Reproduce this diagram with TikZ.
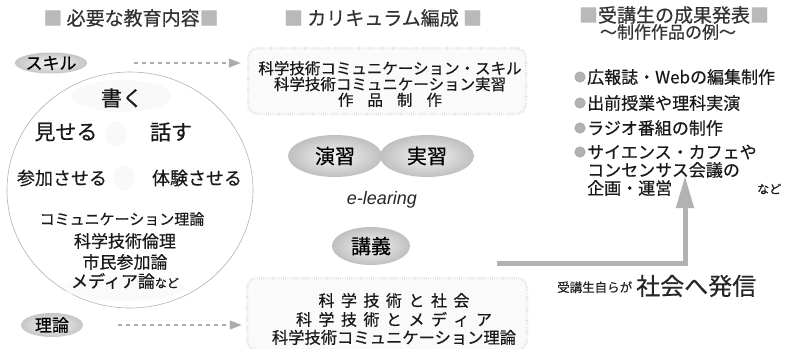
\documentclass[tikz,border=0pt]{standalone}
\usepackage{fontspec}
\setmainfont{Noto Sans CJK JP}[FakeBold=0.5]
\newfontfamily\elfont{Liberation Sans}
\usetikzlibrary{arrows.meta,shapes.geometric}
\newcommand{\fs}[1]{\fontsize{#1}{#1}\selectfont}
\newcommand{\gsq}{\textcolor{gray!55}{■}}
\newcommand{\lsp}{\hspace{6.5pt}}
\newcommand{\wsp}{\hspace{14pt}}
\begin{document}
\begin{tikzpicture}[x=1pt,y=-1pt,
  title/.style={font=\fs{19}, text=black!80, inner sep=0pt},
  tagst/.style={ellipse, inner sep=0pt, inner color=gray!8, outer color=gray!45, text=black},
  circtext/.style={text=black!90, inner sep=0pt},
  boxst/.style={rounded corners=10pt, draw=gray!30, line width=2.5pt, dash pattern=on 0.6pt off 1.6pt, fill=gray!4, inner sep=0pt},
  boxtext/.style={align=center, text=black!90, inner sep=0pt},
  oval/.style={ellipse, inner sep=0pt, minimum width=94pt, minimum height=42pt, inner color=gray!8, outer color=gray!50, font=\fs{20}, text=black},
  item/.style={anchor=west, font=\fs{17}, text=black!90, inner sep=0pt},
  bul/.style={circle, fill=gray!60, draw=gray!80, inner sep=0pt, minimum size=10.5pt},
  dasharrow/.style={gray!65, line width=1.3pt, dash pattern=on 4pt off 4pt, -{Triangle[length=12pt,width=9pt]}},
  blob/.style={ellipse, fill=gray!5, inner sep=0pt}
]
\useasboundingbox (0,0) rectangle (786,348);

% titles
\node[title] (t1) at (131,18) {\gsq\ 必要な教育内容\gsq};
\node[title] (t2) at (383,18) {\gsq\ カリキュラム編成\ \gsq};
\node[title] (t3) at (674,15) {\gsq 受講生の成果発表\gsq};
\node[title, font=\fs{17}] (t3b) at (668,32) {～制作作品の例～};

% left column
\node[tagst, minimum width=68pt, minimum height=21pt, font=\fs{17}] (skill) at (51,63) {スキル};
\node[tagst, minimum width=62pt, minimum height=24pt, font=\fs{17}] (riron) at (52,325) {理論};

\node[ellipse, draw=gray!60, line width=0.6pt, minimum width=246pt, minimum height=236pt, inner sep=0pt] (circ) at (130,190) {};
\node[blob, minimum width=100pt, minimum height=32pt] (b1) at (122,96) {};
\node[blob, minimum width=22pt, minimum height=26pt] (b2) at (116,134) {};
\node[blob, minimum width=22pt, minimum height=26pt] (b3) at (124,178) {};
\node[blob, minimum width=120pt, minimum height=26pt, fill=gray!4] (b4) at (125,288) {};

\node[circtext, font=\fs{21}] (kaku) at (122,98) {書く};
\node[circtext, font=\fs{21}] (miseru) at (66,132) {見せる};
\node[circtext, font=\fs{21}] (hanasu) at (171,132) {話す};
\node[circtext, font=\fs{18}] (sanka) at (62,178) {参加させる};
\node[circtext, font=\fs{18}] (taiken) at (197,178) {体験させる};
\node[circtext, font=\fs{15}] (comm) at (122,219) {コミュニケーション理論};
\node[circtext, font=\fs{17}] (rinri) at (125,241) {科学技術倫理};
\node[circtext, font=\fs{17}] (shimin) at (125,262) {市民参加論};
\node[circtext, font=\fs{17}] (media) at (125,281) {メディア論{\fs{12}など}};

% middle column
\node[boxst, minimum width=278pt, minimum height=66pt] (topbox) at (387,81) {};
\node[boxtext] (toptext) at (390,84)
  {\fs{15.5}科学技術コミュニケーション・スキル\\[0.5pt]
   \fs{15.5}科学技術コミュニケーション実習\\[0.5pt]
   \fs{15.5}作\wsp 品\wsp 制\wsp 作};
\node[oval] (enshu) at (335,156) {演習};
\node[oval] (jisshu) at (427,156) {実習};
\node[text=black!85, font=\elfont\itshape\fs{18}, inner sep=0pt] (elearn) at (382,200) {e-learing};
\node[oval, minimum width=78pt, minimum height=38pt] (kougi) at (371,246) {講義};
\node[boxst, minimum width=280pt, minimum height=72pt] (botbox) at (387,314) {};
\node[boxtext] (bottext) at (394,319)
  {\fs{16}科\lsp 学\lsp 技\lsp 術\lsp と\lsp 社\lsp 会\\[3pt]
   \fs{16}科\lsp 学\lsp 技\lsp 術\lsp と\lsp メ\lsp デ\lsp ィ\lsp ア\\[2pt]
   \fs{16.3}科学技術コミュニケーション理論};

% dashed arrows
\draw[dasharrow] ([xshift=47pt]skill.east) -- ([xshift=-6pt]skill.east -| topbox.west);
\draw[dasharrow] ([xshift=35pt]riron.east) -- ([xshift=-4pt]riron.east -| botbox.west);

% right column
\node[bul] (d1) at (580,77) {};
\node[item] (r1) at (587,77) {広報誌・Webの編集制作};
\node[bul] (d2) at (580,103) {};
\node[item] (r2) at (587,103) {出前授業や理科実演};
\node[bul] (d3) at (580,128) {};
\node[item] (r3) at (587,128) {ラジオ番組の制作};
\node[bul] (d4) at (580,152) {};
\node[item] (r4) at (587,152) {サイエンス・カフェや};
\node[item] (r5) at (587,170) {コンセンサス会議の};
\node[item] (r6) at (587,188) {企画・運営};
\node[item, font=\fs{12}] (nado) at (757,189) {など};

% big arrow
\coordinate (as) at (497,263);
\coordinate (ae) at (685,176);
\draw[gray!60, line width=5pt, -{Triangle[length=32pt,width=17pt]}] (as) -| (ae);

\node[text=black!85, font=\fs{12.5}, anchor=base west, inner sep=0pt] (jiko) at (557,292) {受講生自らが};
\node[text=black!85, font=\fs{24}, anchor=base west, inner sep=0pt] (hasshin) at (636,295) {社会へ発信};
\end{tikzpicture}
\end{document}
